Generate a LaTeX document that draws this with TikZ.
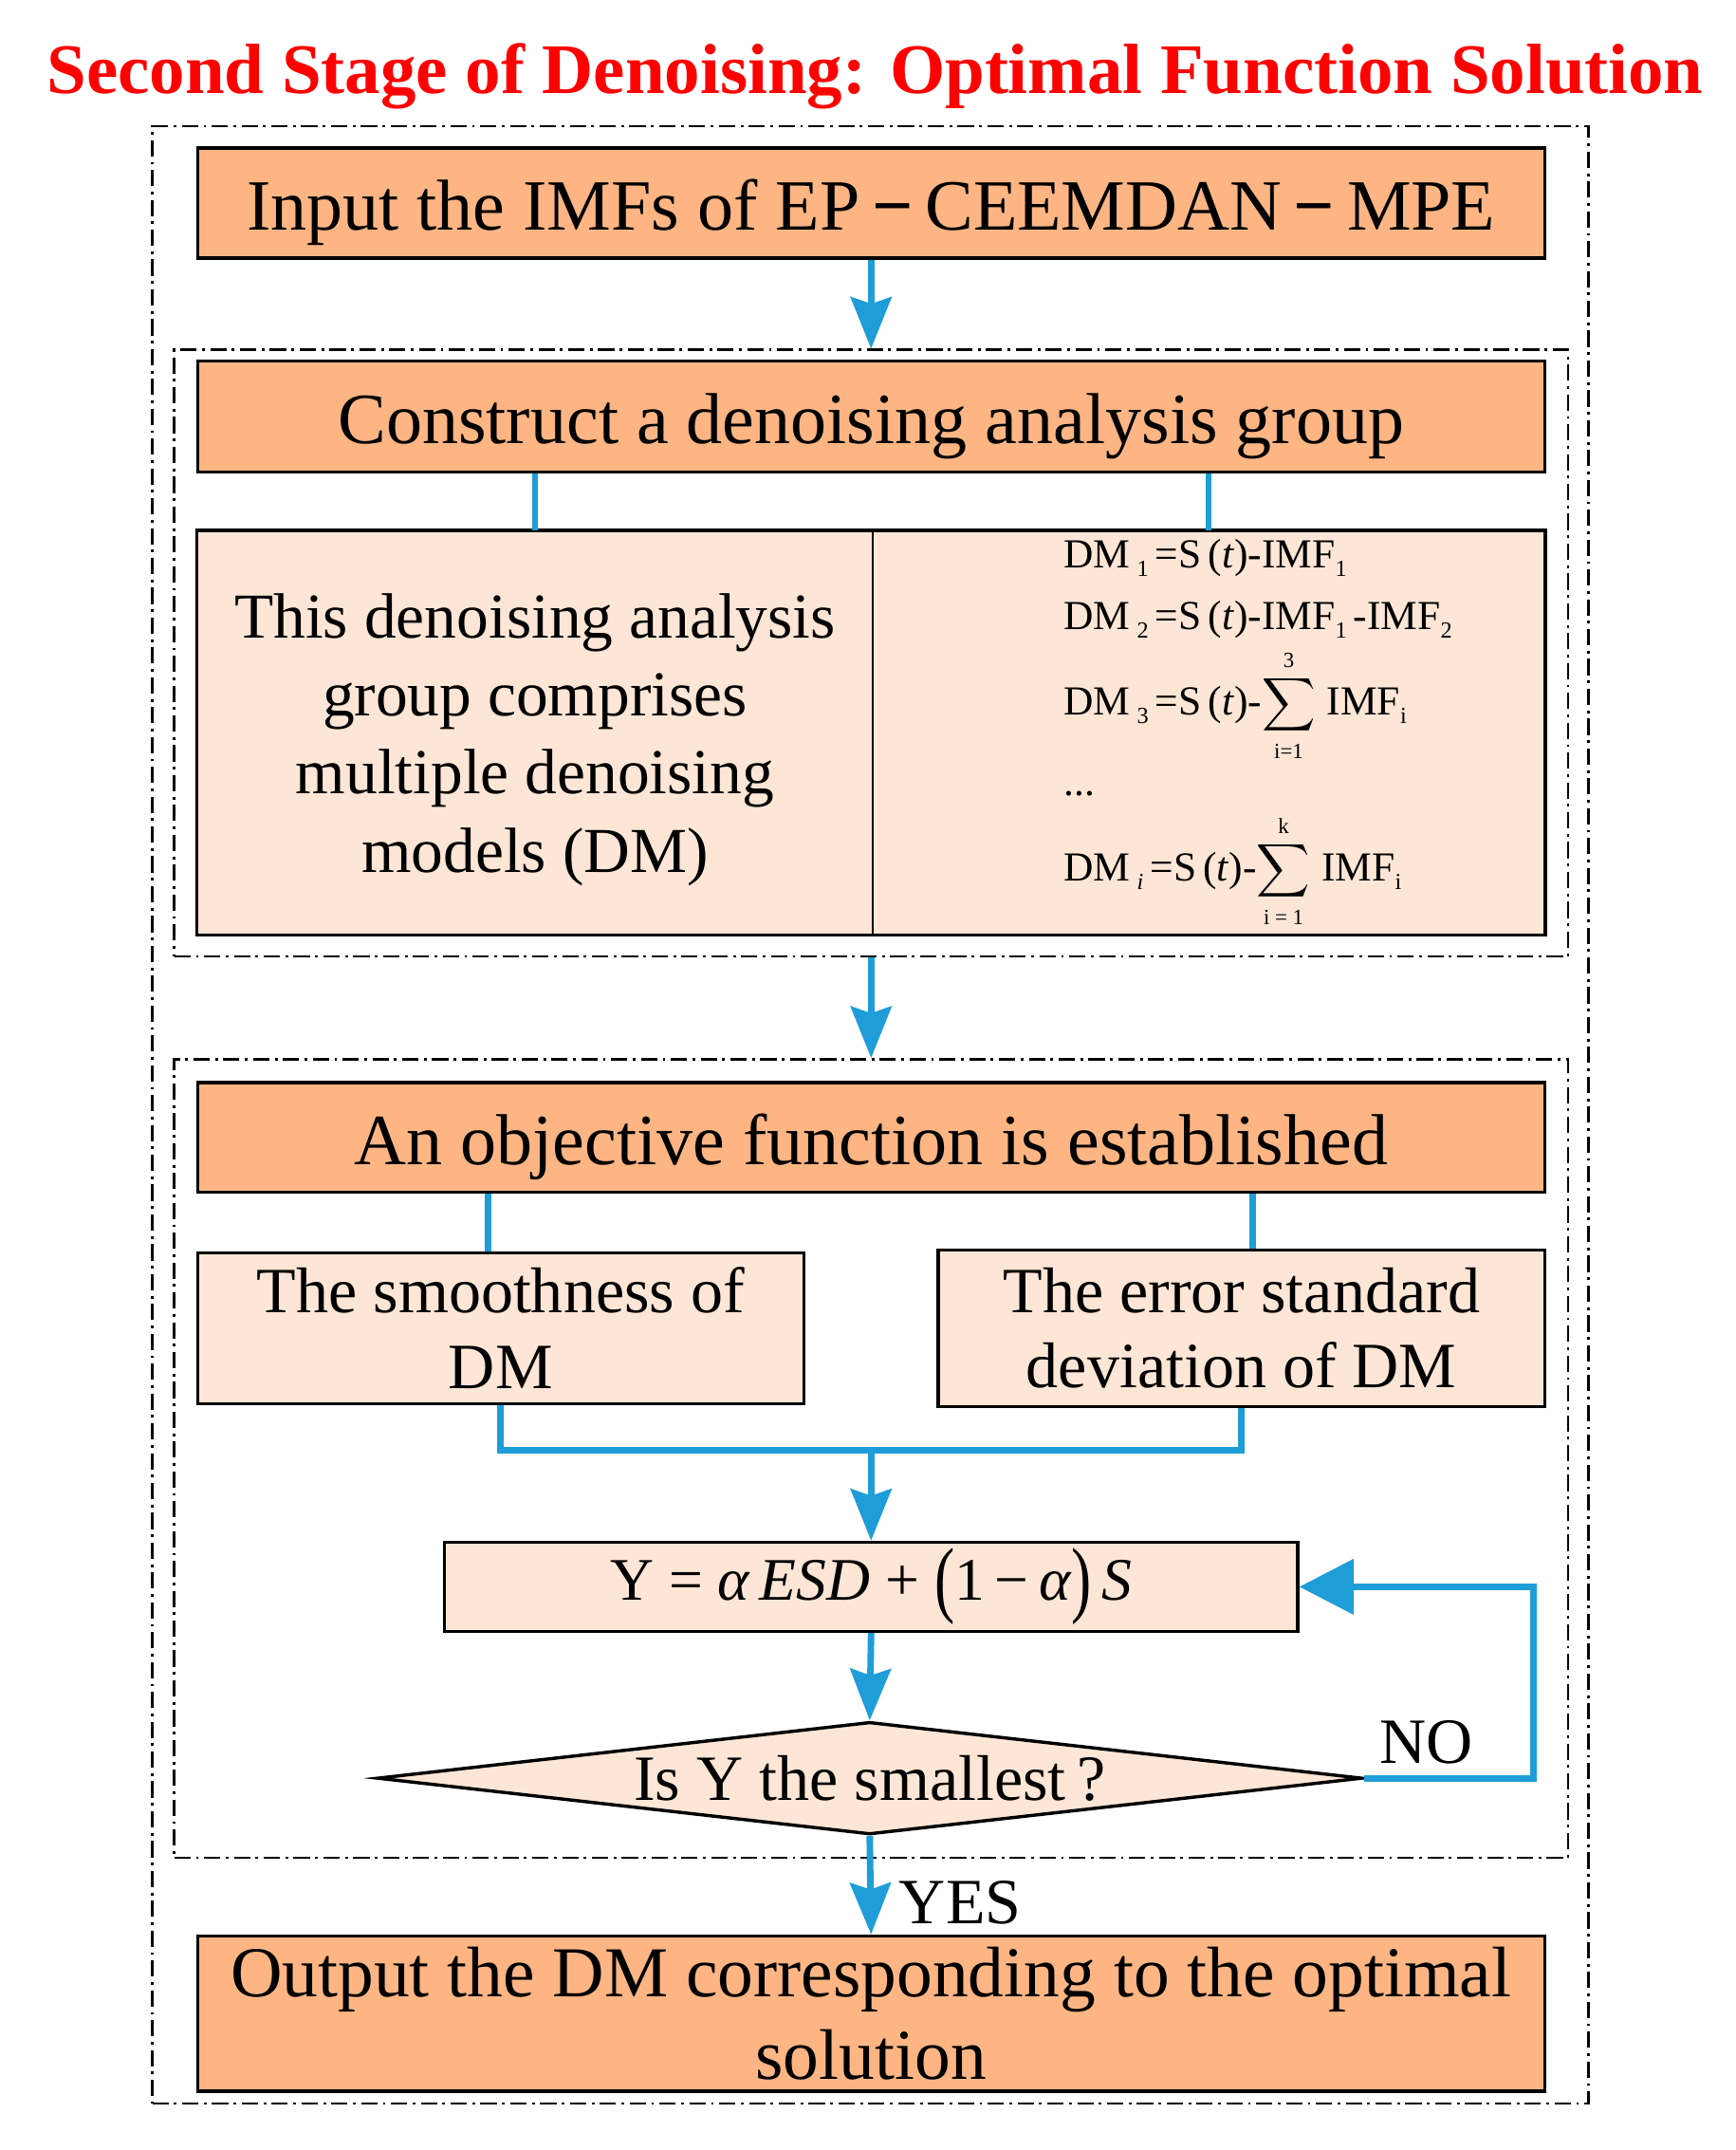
\documentclass[tikz,border=0pt]{standalone}
\usepackage{fontspec}
\setmainfont{Liberation Serif}
\usepackage{amsmath}
\usepackage{graphicx}
\usetikzlibrary{arrows.meta,shapes.geometric,calc}
\definecolor{boxorange}{RGB}{253,181,132}
\definecolor{boxlight}{RGB}{253,230,214}
\definecolor{flowblue}{RGB}{30,157,216}
\definecolor{titlered}{RGB}{255,0,0}
\newcommand\pxu{0.50577pt}
\newcommand\sbs[1]{\raisebox{-0.45ex}{\fontsize{8.5}{8.5}\selectfont #1}}
\newcommand\sumlim[1]{\mbox{\fontsize{8}{8}\selectfont #1}}
\newcommand\bigsum{\mathop{\vcenter{\hbox{\scalebox{0.95}{$\displaystyle\sum$}}}}\limits}
\newcommand\bigpar[1]{\raisebox{-0.12em}{\scalebox{1}[1.4]{#1}}}
\begin{document}
\begin{tikzpicture}[x=0.50577pt,y=-0.50577pt,
  frame/.style={draw=black, line width=0.9pt, dash pattern=on 6pt off 2pt on 1pt off 2pt, inner sep=0pt},
  boxline/.style={draw=black, line width=1.2pt},
  headbox/.style={boxline, fill=boxorange, inner sep=0pt, align=center, font=\fontsize{26.6}{31}\selectfont},
  oneline/.style={text height=20.2pt, text depth=0pt},
  lightbox/.style={boxline, fill=boxlight, inner sep=0pt, align=center},
  cellfill/.style={fill=boxlight, inner sep=0pt, align=center, font=\fontsize{23.6}{28.8}\selectfont},
  bodyfont/.style={font=\fontsize{23.8}{27.8}\selectfont},
  formula/.style={anchor=base west, inner sep=0pt, font=\fontsize{15.2}{18}\selectfont},
  link/.style={draw=flowblue, line width=2.4pt, line join=miter},
  flow/.style={link, -{Stealth[length=19pt,width=15pt,inset=2.5pt]}},
  flowbig/.style={link, -{Stealth[length=20pt,width=20pt,inset=0pt]}},
  labeltext/.style={font=\fontsize{23.8}{27.8}\selectfont, anchor=base, inner sep=0pt}
]
\useasboundingbox (0,0) rectangle (1265.4,1567);
\fill[white] (0,0) rectangle (1265.4,1567);

% title
\node[anchor=base, inner sep=0pt, text=titlered, font=\fontsize{26.2}{30}\selectfont\bfseries] (title) at (638,68) {Second Stage of Denoising: Optimal Function Solution};

% frames
\node[frame, minimum width=1047*\pxu, minimum height=1441*\pxu] (f0) at (634.5,812.5) {};
\node[frame, minimum width=1016*\pxu, minimum height=442*\pxu] (f1) at (635,476) {};
\node[frame, minimum width=1016*\pxu, minimum height=582*\pxu] (f2) at (635,1063) {};

% boxes
\node[headbox, oneline, minimum width=982*\pxu, minimum height=80*\pxu] (b1) at (635,148) {Input the IMFs of EP\,\textbf{−}\,CEEMDAN\,\textbf{−}\,MPE};
\node[headbox, oneline, minimum width=982*\pxu, minimum height=81*\pxu] (b2) at (635,303.5) {Construct a denoising analysis group};

\node[cellfill, text depth=0pt, minimum width=492*\pxu, minimum height=294*\pxu] (cl) at (390,534) {This denoising analysis\\group comprises\\multiple denoising\\models (DM)};
\node[cellfill, minimum width=490*\pxu, minimum height=294*\pxu] (cr) at (881,534) {};
\draw[boxline] (cl.north west) rectangle (cr.south east);
\draw[line width=0.8pt] (cl.north east) -- (cl.south east);

\node[formula] (e1) at (775,414) {DM\,\sbs{1}\,=S\,(\textit{t})-IMF\sbs{1}};
\node[formula] (e2) at (775,459) {DM\,\sbs{2}\,=S\,(\textit{t})-IMF\sbs{1}\,-IMF\sbs{2}};
\node[formula] (e3) at (775,521) {DM\,\sbs{3}\,=S\,(\textit{t})-$\bigsum_{\sumlim{i=1}}^{\sumlim{3}}$\;IMF\sbs{i}};
\node[formula] (e4) at (775,580) {...};
\node[formula] (e5) at (775,642) {DM\,\sbs{\textit{i}}\,=S\,(\textit{t})-$\bigsum_{\sumlim{i = 1}}^{\sumlim{k}}$\;IMF\sbs{i}};

\node[headbox, oneline, minimum width=982*\pxu, minimum height=80*\pxu] (b3) at (635,829) {An objective function is established};
\node[lightbox, bodyfont, minimum width=442*\pxu, minimum height=110*\pxu] (b4) at (365,968) {The smoothness of\\DM};
\node[lightbox, bodyfont, minimum width=442*\pxu, minimum height=114*\pxu] (b5) at (905,968) {The error standard\\deviation of DM};
\node[lightbox, font=\fontsize{22.25}{26}\selectfont, minimum width=622*\pxu, minimum height=65*\pxu] (b6) at (635,1156.5)
  {Y = \textit{α\,ESD} + \bigpar{(}1\,−\,\textit{α}\bigpar{)}\,\textit{S}};
\node[diamond, aspect=8.75, boxline, fill=boxlight, inner sep=0pt, minimum width=718*\pxu, minimum height=82*\pxu, bodyfont] (d) at (634,1296) {Is Y the smallest\,?};
\node[headbox, font=\fontsize{26.4}{30.3}\selectfont, minimum width=982*\pxu, minimum height=113*\pxu] (b7) at (635,1467.5) {Output the DM corresponding to the optimal\\solution};

\node[labeltext] (no) at (1040,1285) {NO};
\node[labeltext] (yes) at (700,1402) {YES};

% connectors
\draw[flow] (b1.south) -- (f1.north);
\draw[link] (b2.south -| cl.north) -- (cl.north);
\draw[link] (b2.south -| cr.north) -- (cr.north);
\draw[flow] (f1.south) -- (f2.north);
\draw[link] ($(b3.south -| b4.north)+(-9,0)$) -- ($(b4.north)+(-9,0)$);
\draw[link] ($(b3.south -| b5.north)+(8,0)$) -- ($(b5.north)+(8,0)$);
\coordinate (m) at (635,1057);
\draw[link] (b4.south) |- (m) -| (b5.south);
\draw[flow] (m) -- (b6.north);
\draw[flow] (b6.south) -- (d.north);
\coordinate (nr) at (1118,1296);
\draw[flowbig] (d.east) -- (nr) |- (b6.east);
\draw[flow] (d.south) -- (b7.north);
\end{tikzpicture}
\end{document}
